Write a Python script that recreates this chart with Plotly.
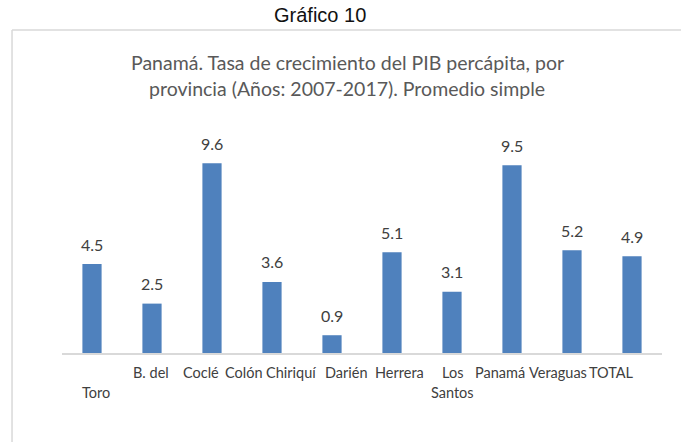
import plotly.graph_objects as go

# ---- data ----
categories = ["B. del Toro", "Coclé", "Colón", "Chiriquí", "Darién",
              "Herrera", "Los Santos", "Panamá", "Veraguas", "TOTAL"]
values = [4.5, 2.5, 9.6, 3.6, 0.9, 5.1, 3.1, 9.5, 5.2, 4.9]
value_labels = ["4.5", "2.5", "9.6", "3.6", "0.9", "5.1", "3.1", "9.5", "5.2", "4.9"]
title_lines = ["Panamá. Tasa de crecimiento del PIB percápita, por",
               "provincia (Años: 2007-2017). Promedio simple"]
figure_caption = "Gráfico 10"

# ---- style ----
BAR = "#4F81BD"
GRAY_TXT = "#595959"
LBL_TXT = "#404040"
BORDER = "#d9d9d9"
FONT = "Lato"

# horizontal offsets (px) of category labels as rendered in the original
first_line_shift = [59, 49, 32, 19, 14, 7, 0, -12, -14, -21]
wrapped = {"B. del Toro": ("B. del", "Toro", 4), "Los Santos": ("Los", "Santos", 0)}

fig = go.Figure()
fig.add_trace(go.Bar(x=categories, y=values, marker=dict(color=BAR, line=dict(width=0)),
                     hoverinfo="skip"))

annotations = []
# data labels
for c, v, t in zip(categories, values, value_labels):
    annotations.append(dict(x=c, y=v, xref="x", yref="y", text=t, showarrow=False,
                            yanchor="middle", yshift=20,
                            font=dict(family=FONT, size=16, color=LBL_TXT)))
# category labels
for c, sh in zip(categories, first_line_shift):
    if c in wrapped:
        l1, l2, sh2 = wrapped[c]
    else:
        l1, l2, sh2 = c, None, 0
    annotations.append(dict(x=c, y=0, xref="x", yref="y", text=l1, showarrow=False,
                            yanchor="middle", yshift=-19, xshift=sh,
                            font=dict(family=FONT, size=14.5, color=LBL_TXT)))
    if l2:
        annotations.append(dict(x=c, y=0, xref="x", yref="y", text=l2, showarrow=False,
                                yanchor="middle", yshift=-39, xshift=sh2,
                                font=dict(family=FONT, size=14.5, color=LBL_TXT)))

# titles
annotations.append(dict(x=0.43, y=1.391, xref="paper", yref="paper", text=figure_caption,
                        showarrow=False, xanchor="center", yanchor="middle",
                        font=dict(family="Liberation Sans", size=20, color="#111111")))
for line, ypos in zip(title_lines, [1.196, 1.09]):
    annotations.append(dict(x=0.475, y=ypos, xref="paper", yref="paper", text=line,
                            showarrow=False, xanchor="center", yanchor="middle",
                            font=dict(family=FONT, size=19.5, color=GRAY_TXT)))

shapes = [
    dict(type="line", xref="paper", yref="paper", x0=-0.0833, x1=1.04, y0=1.329, y1=1.329,
         line=dict(color=BORDER, width=1.5)),
    dict(type="line", xref="paper", yref="paper", x0=-0.0833, x1=-0.0833, y0=1.329, y1=-0.4,
         line=dict(color=BORDER, width=1.5)),
]

fig.update_layout(
    width=681, height=442,
    margin=dict(l=62, r=19, t=110, b=89),
    paper_bgcolor="white", plot_bgcolor="white",
    showlegend=False,
    bargap=0.68,
    annotations=annotations,
    shapes=shapes,
    xaxis=dict(type="category", range=[-0.5, 9.5], showticklabels=False, ticks="",
               showline=True, linecolor=BORDER, linewidth=1.5, showgrid=False, zeroline=False),
    yaxis=dict(range=[0, 12.3], visible=False, showgrid=False, zeroline=False),
)

fig.write_html("out.html")
